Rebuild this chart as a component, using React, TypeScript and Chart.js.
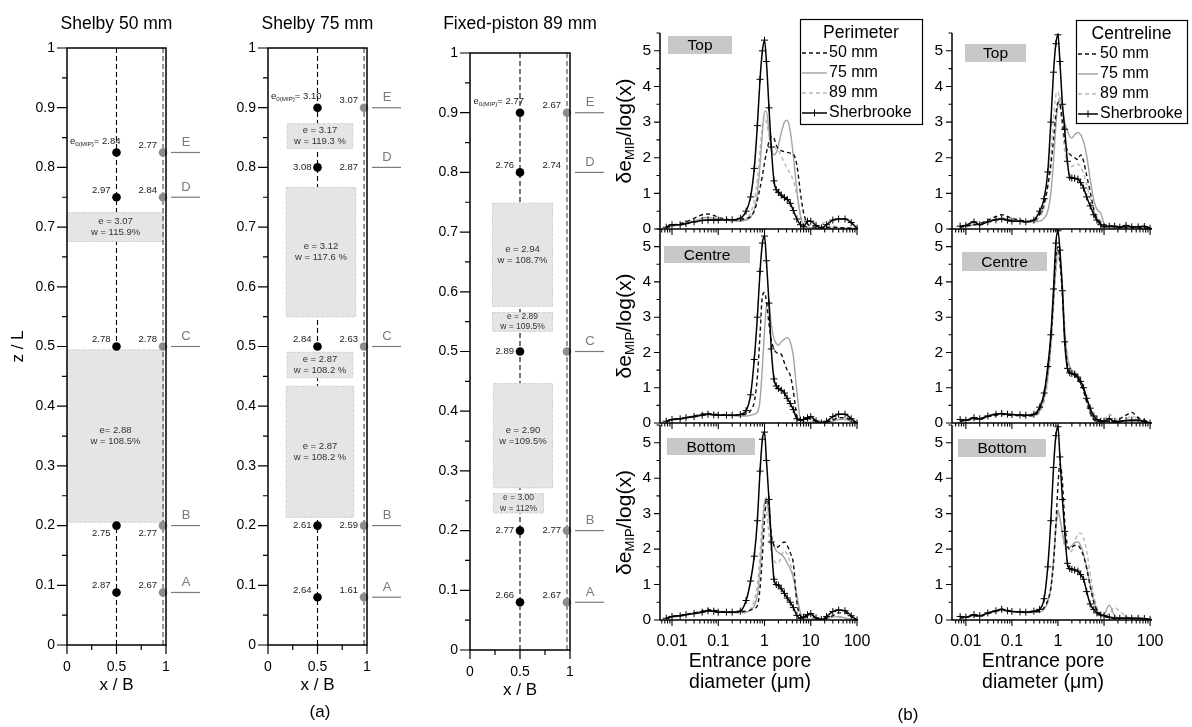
import React, { useEffect, useRef } from 'react';
import { Chart, registerables } from 'chart.js';

Chart.register(...registerables);

const FONT = 'Arial, "Liberation Sans", sans-serif';

// ---------------- (a) sample profiles ----------------
const SITE_LETTERS = ['E', 'D', 'C', 'B', 'A'];
const X_CENTRE = 0.5;
const X_EDGE = 0.97;

const S50_Z = [0.825, 0.75, 0.5, 0.2, 0.088];
const S50_E_CENTRE = ['2.84', '2.97', '2.78', '2.75', '2.87'];
const S50_E_EDGE = ['2.77', '2.84', '2.78', '2.77', '2.67'];
const S50_EDGE_POINT = [0.825, 0.75, 0.5, 0.2, 0.088];
const S50_BOXES: any[] = [
  [0, 0.98, 0.675, 0.725, 'e = 3.07', 'w = 115.9%'],
  [0, 0.98, 0.205, 0.495, 'e= 2.88', 'w = 108.5%'],
];

const S75_Z = [0.9, 0.8, 0.5, 0.2, 0.08];
const S75_E_CENTRE = ['3.10', '3.08', '2.84', '2.61', '2.64'];
const S75_E_EDGE = ['3.07', '2.87', '2.63', '2.59', '1.61'];
const S75_EDGE_POINT = [0.9, null, 0.5, 0.2, 0.08];
const S75_BOXES: any[] = [
  [0.19, 0.86, 0.831, 0.874, 'e = 3.17', 'w = 119.3 %'],
  [0.18, 0.89, 0.549, 0.767, 'e = 3.12', 'w = 117.6 %'],
  [0.19, 0.86, 0.447, 0.491, 'e = 2.87', 'w = 108.2 %'],
  [0.18, 0.87, 0.213, 0.434, 'e = 2.87', 'w = 108.2 %'],
];

const FP_Z = [0.9, 0.8, 0.5, 0.2, 0.08];
const FP_E_CENTRE = ['2.77', '2.76', '2.89', '2.77', '2.66'];
const FP_E_EDGE = ['2.67', '2.74', '', '2.77', '2.67'];
const FP_EDGE_POINT = [0.9, null, 0.5, 0.2, 0.08];
const FP_BOXES: any[] = [
  [0.22, 0.83, 0.575, 0.749, 'e = 2.94', 'w = 108.7%'],
  [0.22, 0.83, 0.533, 0.566, 'e = 2.89', 'w = 109.5%'],
  [0.23, 0.83, 0.271, 0.447, 'e = 2.90', 'w =109.5%'],
  [0.23, 0.74, 0.229, 0.263, 'e = 3.00', 'w = 112%'],
];

const A_Y_MAJOR = [0, 0.1, 0.2, 0.3, 0.4, 0.5, 0.6, 0.7, 0.8, 0.9, 1];
const A_Y_LABELS = ['0', '0.1', '0.2', '0.3', '0.4', '0.5', '0.6', '0.7', '0.8', '0.9', '1'];
const A_Y_MINOR = [0.05, 0.15, 0.25, 0.35, 0.45, 0.55, 0.65, 0.75, 0.85, 0.95];
const A_X_MAJOR = [0, 0.5, 1];
const A_X_LABELS = ['0', '0.5', '1'];
const A_X_MINOR = [0.25, 0.75];

// ---------------- (b) pore size distributions ----------------
const DIAM = [
  0.0075, 0.01, 0.015, 0.02, 0.03, 0.045, 0.06, 0.08, 0.1, 0.15, 0.2, 0.3,
  0.4, 0.5, 0.6, 0.7, 0.8, 0.9, 1.0, 1.1, 1.25, 1.4, 1.6, 1.8,
  2.0, 2.3, 2.7, 3.1, 3.6, 4.2, 5.0, 6.0, 7.0, 8.5,
  10, 13, 17, 22, 30, 40, 55, 75, 100,
];
const SERIES_NAMES = ['50 mm', '75 mm', '89 mm', 'Sherbrooke'];

// Perimeter - Top
const PT_50 = [0.05, 0.1, 0.15, 0.2, 0.3, 0.4, 0.42, 0.38, 0.33, 0.28, 0.25, 0.25,
  0.3, 0.35, 0.5, 0.8, 1.15, 1.5, 1.85, 2.15, 2.45, 2.6, 2.55, 2.35,
  2.25, 2.2, 2.17, 2.15, 2.13, 2.1, 1.8, 1.0, 0.45, 0.15,
  0.08, 0.05, 0.04, 0.05, 0.05, 0.04, 0.03, 0.02, 0.0];
const PT_75 = [0.05, 0.08, 0.12, 0.16, 0.22, 0.3, 0.33, 0.3, 0.28, 0.25, 0.23, 0.22,
  0.25, 0.32, 0.55, 1.0, 1.8, 2.7, 3.3, 3.3, 2.75, 2.3, 2.08, 2.15,
  2.35, 2.7, 3.0, 3.05, 2.75, 2.05, 1.1, 0.35, 0.1, 0.05,
  0.03, 0.03, 0.02, 0.02, 0.02, 0.02, 0.02, 0.02, 0.0];
const PT_89 = [0.05, 0.08, 0.12, 0.15, 0.2, 0.25, 0.27, 0.26, 0.25, 0.24, 0.23, 0.24,
  0.3, 0.45, 0.8, 1.4, 2.2, 2.9, 3.15, 3.0, 2.6, 2.4, 2.3, 2.25,
  2.2, 2.05, 1.85, 1.7, 1.55, 1.35, 0.95, 0.4, 0.15, 0.05,
  0.03, 0.05, 0.12, 0.22, 0.1, 0.03, 0.02, 0.02, 0.0];
const PT_SH = [0.05, 0.12, 0.12, 0.15, 0.2, 0.24, 0.25, 0.25, 0.25, 0.26, 0.26, 0.3,
  0.5, 0.9, 1.7, 2.9, 4.2, 5.0, 5.3, 4.7, 3.4, 2.3, 1.35, 1.1,
  1.03, 0.95, 0.88, 0.83, 0.72, 0.52, 0.28, 0.12, 0.06, 0.22,
  0.22, 0.1, 0.03, 0.12, 0.25, 0.28, 0.28, 0.18, 0.02];

// Perimeter - Centre
const PC_50 = [0.05, 0.1, 0.12, 0.15, 0.2, 0.25, 0.27, 0.25, 0.24, 0.23, 0.22, 0.23,
  0.25, 0.35, 0.6, 1.3, 2.5, 3.6, 3.7, 3.45, 2.8, 2.35, 2.1, 2.0,
  1.98, 1.95, 1.7, 1.5, 1.35, 0.9, 0.2, 0.08, 0.08, 0.12,
  0.12, 0.05, 0.02, 0.03, 0.08, 0.15, 0.15, 0.08, 0.0];
const PC_75 = [0.05, 0.08, 0.12, 0.15, 0.2, 0.25, 0.27, 0.25, 0.24, 0.22, 0.21, 0.2,
  0.2, 0.22, 0.25, 0.3, 0.65, 1.6, 2.6, 3.3, 3.4, 2.8, 2.4, 2.25,
  2.2, 2.3, 2.38, 2.42, 2.3, 1.9, 0.9, 0.1, 0.04, 0.03,
  0.02, 0.02, 0.02, 0.03, 0.05, 0.1, 0.1, 0.05, 0.0];
const PC_SH = [0.05, 0.1, 0.12, 0.15, 0.18, 0.22, 0.25, 0.23, 0.22, 0.22, 0.22, 0.24,
  0.35, 0.8, 1.8, 3.0, 4.3, 5.1, 5.3, 4.6, 3.4, 2.1, 1.25, 1.05,
  0.98, 0.93, 0.85, 0.7, 0.55, 0.38, 0.12, 0.08, 0.1, 0.15,
  0.18, 0.06, 0.0, 0.05, 0.18, 0.25, 0.25, 0.12, 0.0];

// Perimeter - Bottom
const PB_50 = [0.05, 0.1, 0.13, 0.16, 0.2, 0.25, 0.3, 0.27, 0.25, 0.23, 0.22, 0.23,
  0.25, 0.28, 0.33, 0.4, 0.9, 1.8, 2.8, 3.4, 3.2, 2.4, 2.1, 2.05,
  2.07, 2.15, 2.2, 2.1, 1.9, 1.6, 0.5, 0.12, 0.08, 0.12,
  0.15, 0.05, 0.02, 0.05, 0.12, 0.2, 0.2, 0.1, 0.0];
const PB_75 = [0.05, 0.08, 0.12, 0.15, 0.2, 0.24, 0.26, 0.25, 0.24, 0.22, 0.21, 0.21,
  0.22, 0.28, 0.4, 0.7, 1.4, 2.5, 3.3, 3.45, 2.9, 2.4, 2.1, 1.95,
  1.9, 1.85, 1.75, 1.6, 1.45, 1.2, 0.7, 0.2, 0.05, 0.03,
  0.02, 0.02, 0.03, 0.05, 0.08, 0.1, 0.06, 0.02, 0.0];
const PB_89 = [0.05, 0.08, 0.11, 0.14, 0.18, 0.22, 0.25, 0.24, 0.23, 0.22, 0.21, 0.21,
  0.22, 0.32, 0.55, 1.0, 1.9, 2.8, 3.3, 3.1, 2.4, 1.9, 1.7, 1.6,
  1.6, 1.8, 1.95, 1.85, 1.6, 1.2, 0.6, 0.15, 0.05, 0.03,
  0.02, 0.02, 0.05, 0.1, 0.12, 0.08, 0.04, 0.02, 0.0];
const PB_SH = [0.05, 0.1, 0.12, 0.15, 0.18, 0.22, 0.26, 0.25, 0.22, 0.22, 0.22, 0.25,
  0.55, 1.1, 1.8, 2.8, 4.2, 5.1, 5.3, 4.5, 3.4, 2.2, 1.15, 1.0,
  0.98, 0.88, 0.75, 0.62, 0.5, 0.35, 0.13, 0.05, 0.08, 0.15,
  0.18, 0.06, 0.01, 0.1, 0.24, 0.28, 0.26, 0.12, 0.0];

// Centreline - Top
const CT_50 = [0.05, 0.08, 0.12, 0.15, 0.25, 0.35, 0.4, 0.35, 0.3, 0.25, 0.22, 0.25,
  0.4, 0.7, 1.2, 1.8, 2.5, 3.2, 3.55, 3.5, 3.0, 2.5, 2.2, 2.1,
  2.05, 2.0, 1.95, 2.08, 1.9, 1.5, 1.05, 0.55, 0.3, 0.18,
  0.12, 0.1, 0.05, 0.05, 0.05, 0.05, 0.04, 0.03, 0.0];
const CT_75 = [0.05, 0.08, 0.12, 0.15, 0.22, 0.28, 0.3, 0.28, 0.25, 0.22, 0.2, 0.2,
  0.22, 0.3, 0.5, 1.0, 1.9, 2.9, 3.5, 3.7, 3.4, 3.0, 2.75, 2.6,
  2.55, 2.65, 2.7, 2.65, 2.45, 2.05, 1.4, 0.8, 0.55, 0.45,
  0.15, 0.05, 0.03, 0.05, 0.05, 0.05, 0.07, 0.1, 0.02];
const CT_89 = [0.05, 0.08, 0.11, 0.14, 0.2, 0.25, 0.27, 0.25, 0.23, 0.22, 0.21, 0.22,
  0.35, 0.6, 1.2, 2.1, 3.1, 3.75, 3.85, 3.5, 2.8, 2.2, 1.85, 1.75,
  1.75, 1.8, 1.82, 1.75, 1.55, 1.25, 0.85, 0.45, 0.25, 0.12,
  0.08, 0.05, 0.03, 0.03, 0.03, 0.03, 0.02, 0.02, 0.0];
const CT_SH = [0.08, 0.1, 0.2, 0.12, 0.2, 0.26, 0.28, 0.25, 0.22, 0.22, 0.2, 0.25,
  0.5, 0.85, 1.6, 3.0, 4.4, 5.2, 5.45, 4.7, 3.5, 2.8, 1.9, 1.45,
  1.43, 1.42, 1.4, 1.3, 1.15, 0.9, 0.65, 0.4, 0.25, 0.12,
  0.06, 0.08, 0.08, 0.05, 0.1, 0.06, 0.06, 0.07, 0.02];

// Centreline - Centre
const CC_50 = [0.05, 0.07, 0.12, 0.1, 0.18, 0.22, 0.25, 0.23, 0.22, 0.21, 0.2, 0.22,
  0.4, 0.8, 1.5, 2.4, 3.6, 4.7, 5.0, 4.6, 3.6, 2.4, 1.65, 1.45,
  1.4, 1.35, 1.25, 1.1, 0.9, 0.6, 0.3, 0.1, 0.05, 0.05,
  0.08, 0.05, 0.05, 0.12, 0.22, 0.3, 0.15, 0.08, 0.02];
const CC_75 = [0.05, 0.08, 0.12, 0.12, 0.2, 0.24, 0.26, 0.24, 0.23, 0.22, 0.21, 0.22,
  0.35, 0.7, 1.3, 2.2, 3.4, 4.4, 4.9, 4.7, 3.9, 2.7, 1.9, 1.6,
  1.5, 1.45, 1.35, 1.2, 1.0, 0.7, 0.35, 0.12, 0.05, 0.03,
  0.03, 0.02, 0.02, 0.03, 0.05, 0.05, 0.03, 0.02, 0.0];
const CC_89 = [0.05, 0.08, 0.1, 0.12, 0.18, 0.22, 0.25, 0.23, 0.22, 0.21, 0.2, 0.21,
  0.3, 0.6, 1.2, 2.1, 3.3, 4.3, 4.7, 4.5, 3.7, 2.5, 1.8, 1.55,
  1.45, 1.4, 1.3, 1.15, 0.95, 0.6, 0.25, 0.08, 0.03, 0.05,
  0.1, 0.25, 0.15, 0.05, 0.1, 0.2, 0.1, 0.05, 0.0];
const CC_SH = [0.1, 0.08, 0.15, 0.12, 0.2, 0.25, 0.27, 0.25, 0.24, 0.23, 0.22, 0.25,
  0.45, 0.85, 1.6, 2.5, 3.8, 5.1, 5.45, 4.9, 3.75, 2.3, 1.55, 1.42,
  1.4, 1.38, 1.3, 1.18, 1.0, 0.7, 0.42, 0.2, 0.1, 0.05,
  0.05, 0.12, 0.03, 0.05, 0.07, 0.08, 0.08, 0.04, 0.0];

// Centreline - Bottom
const CB_50 = [0.05, 0.08, 0.12, 0.1, 0.18, 0.25, 0.3, 0.27, 0.25, 0.23, 0.22, 0.23,
  0.25, 0.35, 0.55, 0.9, 1.6, 2.7, 3.8, 4.4, 3.9, 2.8, 2.1, 2.0,
  2.05, 2.1, 2.1, 2.0, 1.8, 1.45, 0.95, 0.5, 0.28, 0.15,
  0.1, 0.08, 0.05, 0.05, 0.05, 0.04, 0.04, 0.03, 0.0];
const CB_75 = [0.05, 0.08, 0.12, 0.12, 0.2, 0.25, 0.28, 0.26, 0.24, 0.22, 0.21, 0.22,
  0.22, 0.3, 0.5, 0.9, 1.7, 2.6, 3.1, 2.9, 2.45, 2.15, 2.05, 2.05,
  2.1, 2.18, 2.2, 2.1, 1.85, 1.5, 1.0, 0.55, 0.3, 0.12,
  0.15, 0.42, 0.12, 0.05, 0.08, 0.05, 0.03, 0.02, 0.0];
const CB_89 = [0.05, 0.08, 0.11, 0.12, 0.18, 0.24, 0.27, 0.25, 0.23, 0.22, 0.21, 0.22,
  0.25, 0.35, 0.55, 0.95, 1.7, 2.5, 3.0, 2.85, 2.4, 2.05, 1.95, 1.92,
  1.95, 2.2, 2.42, 2.45, 2.3, 1.95, 1.3, 0.7, 0.35, 0.18,
  0.12, 0.18, 0.35, 0.25, 0.1, 0.05, 0.03, 0.02, 0.0];
const CB_SH = [0.1, 0.08, 0.15, 0.12, 0.2, 0.26, 0.3, 0.26, 0.24, 0.23, 0.22, 0.25,
  0.3, 0.6, 1.5, 2.8, 4.3, 5.2, 5.45, 4.6, 3.4, 2.5, 1.6, 1.45,
  1.43, 1.41, 1.38, 1.28, 1.15, 0.8, 0.45, 0.3, 0.2, 0.14,
  0.12, 0.08, 0.05, 0.05, 0.05, 0.05, 0.05, 0.04, 0.02];

const B_X_MAJOR = [0.01, 0.1, 1, 10, 100];
const B_X_LABELS = ['0.01', '0.1', '1', '10', '100'];
const B_X_MINOR = [0.006, 0.007, 0.008, 0.009, 0.02, 0.03, 0.04, 0.05, 0.06, 0.07, 0.08, 0.09,
  0.2, 0.3, 0.4, 0.5, 0.6, 0.7, 0.8, 0.9, 2, 3, 4, 5, 6, 7, 8, 9, 20, 30, 40, 50, 60, 70, 80, 90];
const B_Y_MAJOR = [0, 1, 2, 3, 4, 5];
const B_Y_LABELS = ['0', '1', '2', '3', '4', '5'];
const B_Y_MINOR = [0.5, 1.5, 2.5, 3.5, 4.5, 5.5];
const TAG_NAMES = ['Top', 'Centre', 'Bottom'];

// ---------------- helpers ----------------
function drawSubText(ctx: any, base: string, sub: string, rest: string, x: number, y: number, size: number, align: string, subScale = 0.65) {
  const subSize = size * subScale;
  ctx.font = `${size}px ${FONT}`;
  const w1 = ctx.measureText(base).width;
  const w3 = ctx.measureText(rest).width;
  ctx.font = `${subSize}px ${FONT}`;
  const w2 = ctx.measureText(sub).width;
  const total = w1 + w2 + w3;
  let cx = align === 'right' ? x - total : align === 'center' ? x - total / 2 : x;
  ctx.textAlign = 'left';
  ctx.textBaseline = 'middle';
  ctx.font = `${size}px ${FONT}`;
  ctx.fillText(base, cx, y);
  cx += w1;
  ctx.font = `${subSize}px ${FONT}`;
  ctx.fillText(sub, cx, y + size * 0.28);
  cx += w2;
  ctx.font = `${size}px ${FONT}`;
  ctx.fillText(rest, cx, y);
}

function labelDy(z: number, boxes: any[]) {
  let gap = Infinity;
  for (const b of boxes) if (b[2] >= z) gap = Math.min(gap, b[2] - z);
  if (gap < 0.012) return 8;
  if (gap < 0.04) return 0;
  return -7;
}

type PanelA = {
  title: string; z: number[]; eCentre: string[]; eEdge: string[]; edgePoint: (number | null)[];
  boxes: any[]; zLabel: boolean; titleY: number;
};

function panelAPlugin(p: PanelA) {
  return {
    id: 'panelA',
    beforeDatasetDraw(chart: any, args: any) {
      if (args.index !== 2) return;
      const { ctx, scales: { x, y } } = chart;
      ctx.save();
      for (const b of p.boxes) {
        const x0 = x.getPixelForValue(b[0]);
        const x1 = x.getPixelForValue(b[1]);
        const yTop = y.getPixelForValue(b[3]);
        const yBot = y.getPixelForValue(b[2]);
        ctx.fillStyle = '#e5e5e5';
        ctx.fillRect(x0, yTop, x1 - x0, yBot - yTop);
        ctx.setLineDash([3, 2]);
        ctx.strokeStyle = '#d2d2d2';
        ctx.lineWidth = 1;
        ctx.strokeRect(x0 + 0.5, yTop + 0.5, x1 - x0 - 1, yBot - yTop - 1);
        ctx.setLineDash([]);
        const h = yBot - yTop;
        const fs = h < 24 ? 8.5 : 9.5;
        ctx.font = `${fs}px ${FONT}`;
        ctx.fillStyle = '#333';
        ctx.textAlign = 'center';
        ctx.textBaseline = 'middle';
        const cx = (x0 + x1) / 2;
        const cy = (yTop + yBot) / 2;
        const g = fs * 0.6;
        ctx.fillText(b[4], cx, cy - g);
        ctx.fillText(b[5], cx, cy + g);
      }
      ctx.restore();
    },
    afterDraw(chart: any) {
      const { ctx, chartArea: ca, scales: { x, y } } = chart;
      ctx.save();
      ctx.strokeStyle = '#000';
      ctx.lineWidth = 1.5;
      ctx.strokeRect(ca.left, ca.top, ca.right - ca.left, ca.bottom - ca.top);
      ctx.lineWidth = 1.2;
      ctx.beginPath();
      for (const v of A_Y_MAJOR) { const py = y.getPixelForValue(v); ctx.moveTo(ca.left - 10, py); ctx.lineTo(ca.left, py); }
      for (const v of A_Y_MINOR) { const py = y.getPixelForValue(v); ctx.moveTo(ca.left - 5, py); ctx.lineTo(ca.left, py); }
      for (const v of A_X_MAJOR) { const px = x.getPixelForValue(v); ctx.moveTo(px, ca.bottom); ctx.lineTo(px, ca.bottom + 9); }
      for (const v of A_X_MINOR) { const px = x.getPixelForValue(v); ctx.moveTo(px, ca.bottom); ctx.lineTo(px, ca.bottom + 5); }
      ctx.stroke();

      ctx.fillStyle = '#000';
      ctx.textAlign = 'center';
      ctx.textBaseline = 'middle';
      ctx.font = `17.5px ${FONT}`;
      ctx.fillText(p.title, (ca.left + ca.right) / 2, p.titleY);
      ctx.font = `17px ${FONT}`;
      ctx.fillText('x / B', (ca.left + ca.right) / 2, ca.bottom + 40);
      if (p.zLabel) {
        ctx.save();
        ctx.translate(18, (ca.top + ca.bottom) / 2);
        ctx.rotate(-Math.PI / 2);
        ctx.fillText('z / L', 0, 0);
        ctx.restore();
      }

      const xc = x.getPixelForValue(X_CENTRE);
      const xe = x.getPixelForValue(X_EDGE);
      p.z.forEach((z, i) => {
        const py = y.getPixelForValue(z);
        const dy = labelDy(z, p.boxes);
        ctx.fillStyle = '#1a1a1a';
        if (i === 0) {
          drawSubText(ctx, 'e', '0(MIP)', '= ' + p.eCentre[i], xc + 4, py - 11, 9.5, 'right');
        } else {
          ctx.font = `9.5px ${FONT}`;
          ctx.textAlign = 'right';
          ctx.textBaseline = 'middle';
          ctx.fillText(p.eCentre[i], xc - 6, py + dy);
        }
        if (p.eEdge[i]) {
          ctx.font = `9.5px ${FONT}`;
          ctx.textAlign = 'right';
          ctx.textBaseline = 'middle';
          ctx.fillText(p.eEdge[i], xe - 6, py + dy);
        }
        ctx.strokeStyle = '#7a7a7a';
        ctx.lineWidth = 1.2;
        ctx.beginPath();
        ctx.moveTo(ca.right + 5, py);
        ctx.lineTo(ca.right + 34, py);
        ctx.stroke();
        ctx.fillStyle = '#7a7a7a';
        ctx.font = `13px ${FONT}`;
        ctx.textAlign = 'center';
        ctx.fillText(SITE_LETTERS[i], ca.right + 20, py - 10);
      });
      ctx.restore();
    },
  };
}

function buildA(p: PanelA, W: number, H: number, area: any) {
  const yW = 62;
  const xH = 50;
  return {
    type: 'scatter',
    data: {
      datasets: [
        {
          data: p.edgePoint.filter((z) => z !== null).map((z) => ({ x: X_EDGE, y: z })),
          pointRadius: 4.3, pointBackgroundColor: '#8c8c8c', pointBorderColor: '#8c8c8c', pointBorderWidth: 0,
          showLine: false, clip: false,
        },
        {
          data: p.z.map((z) => ({ x: X_CENTRE, y: z })),
          pointRadius: 4.3, pointBackgroundColor: '#000', pointBorderColor: '#000', pointBorderWidth: 0,
          showLine: false, clip: false,
        },
        {
          data: [{ x: X_EDGE, y: 0 }, { x: X_EDGE, y: 1 }],
          showLine: true, borderColor: '#444', borderWidth: 1.1, borderDash: [5, 3], pointRadius: 0, clip: false,
        },
        {
          data: [{ x: X_CENTRE, y: 0 }, { x: X_CENTRE, y: 1 }],
          showLine: true, borderColor: '#000', borderWidth: 1.1, borderDash: [5, 3], pointRadius: 0, clip: false,
        },
      ],
    },
    options: {
      responsive: false,
      animation: false,
      events: [],
      layout: { padding: { left: area.l - yW, top: area.t, right: W - area.r, bottom: H - area.b - xH } },
      plugins: { legend: { display: false }, tooltip: { enabled: false }, title: { display: false } },
      scales: {
        x: {
          type: 'linear', min: 0, max: 1,
          afterFit: (s: any) => { s.height = xH; },
          afterBuildTicks: (s: any) => { s.ticks = A_X_MAJOR.map((v) => ({ value: v })); },
          ticks: { callback: (_v: any, i: number) => A_X_LABELS[i], font: { size: 14, family: FONT }, color: '#000', padding: 14, maxRotation: 0, autoSkip: false },
          grid: { display: false, drawTicks: false }, border: { display: false },
        },
        y: {
          type: 'linear', min: 0, max: 1,
          afterFit: (s: any) => { s.width = yW; },
          afterBuildTicks: (s: any) => { s.ticks = A_Y_MAJOR.map((v) => ({ value: v })); },
          ticks: { callback: (_v: any, i: number) => A_Y_LABELS[i], font: { size: 14, family: FONT }, color: '#000', padding: 12, autoSkip: false },
          grid: { display: false, drawTicks: false }, border: { display: false },
        },
      },
    },
    plugins: [panelAPlugin(p)],
  };
}

type PanelB = {
  series: (number[] | null)[]; xMin: number; xMax: number; tag: string; tagBox: any;
  legend: any | null; xLabels: boolean; yTitle: boolean;
};

function seriesStyle(i: number) {
  if (i === 0) return { borderColor: '#111', borderDash: [4, 3], borderWidth: 1.4, pointRadius: 0, order: 1 };
  if (i === 1) return { borderColor: '#a3a3a3', borderWidth: 1.4, pointRadius: 0, order: 2 };
  if (i === 2) return { borderColor: '#b8b8b8', borderDash: [4, 3], borderWidth: 1.4, pointRadius: 0, order: 3 };
  return { borderColor: '#000', borderWidth: 1.5, pointStyle: 'cross', pointRadius: 3.5, pointBorderWidth: 1, pointBorderColor: '#000', order: 0 };
}

function panelBPlugin(p: PanelB) {
  return {
    id: 'panelB',
    afterDraw(chart: any) {
      const { ctx, chartArea: ca, scales: { x, y } } = chart;
      ctx.save();
      ctx.strokeStyle = '#000';
      ctx.lineWidth = 1.5;
      ctx.beginPath();
      ctx.moveTo(ca.left, ca.top);
      ctx.lineTo(ca.left, ca.bottom);
      ctx.lineTo(ca.right, ca.bottom);
      ctx.stroke();
      ctx.lineWidth = 1.1;
      ctx.beginPath();
      for (const v of B_Y_MAJOR) { const py = y.getPixelForValue(v); ctx.moveTo(ca.left - 6, py); ctx.lineTo(ca.left, py); }
      for (const v of B_Y_MINOR) { const py = y.getPixelForValue(v); ctx.moveTo(ca.left - 3.5, py); ctx.lineTo(ca.left, py); }
      for (const v of B_X_MAJOR) {
        if (v < p.xMin || v > p.xMax) continue;
        const px = x.getPixelForValue(v); ctx.moveTo(px, ca.bottom); ctx.lineTo(px, ca.bottom + 6);
      }
      for (const v of B_X_MINOR) {
        if (v < p.xMin || v > p.xMax) continue;
        const px = x.getPixelForValue(v); ctx.moveTo(px, ca.bottom); ctx.lineTo(px, ca.bottom + 3.5);
      }
      ctx.stroke();

      // tag box
      const tb = p.tagBox;
      ctx.fillStyle = '#c8c8c8';
      ctx.fillRect(ca.left + tb.dx, ca.top + tb.dy, tb.w, tb.h);
      ctx.fillStyle = '#000';
      ctx.font = `15.5px ${FONT}`;
      ctx.textAlign = 'center';
      ctx.textBaseline = 'middle';
      ctx.fillText(p.tag, ca.left + tb.dx + tb.w / 2, ca.top + tb.dy + tb.h / 2 + 1);

      if (p.yTitle) {
        ctx.save();
        ctx.translate(ca.left - 35, (ca.top + ca.bottom) / 2);
        ctx.rotate(-Math.PI / 2);
        ctx.fillStyle = '#000';
        drawSubText(ctx, '\u03b4e', 'MIP', '/log(x)', 0, 0, 21, 'center', 0.62);
        ctx.restore();
      }
      if (p.xLabels) {
        ctx.fillStyle = '#000';
        ctx.font = `19.5px ${FONT}`;
        ctx.textAlign = 'center';
        ctx.textBaseline = 'middle';
        const cx = (ca.left + ca.right) / 2 - 9;
        ctx.fillText('Entrance pore', cx, ca.bottom + 42);
        ctx.fillText('diameter (\u03bcm)', cx, ca.bottom + 63);
      }
      if (p.legend) {
        const L = p.legend;
        ctx.fillStyle = '#fff';
        ctx.fillRect(L.x0, L.y0, L.x1 - L.x0, L.y1 - L.y0);
        ctx.strokeStyle = '#000';
        ctx.lineWidth = 1.2;
        ctx.strokeRect(L.x0 + 0.5, L.y0 + 0.5, L.x1 - L.x0, L.y1 - L.y0);
        ctx.fillStyle = '#000';
        ctx.font = `17.5px ${FONT}`;
        ctx.textAlign = 'center';
        ctx.textBaseline = 'middle';
        ctx.fillText(L.title, (L.x0 + L.x1) / 2, L.y0 + 14);
        chart.data.datasets.forEach((ds: any, i: number) => {
          const ry = L.y0 + 34 + i * 20;
          ctx.strokeStyle = ds.borderColor;
          ctx.lineWidth = ds.borderWidth;
          ctx.setLineDash(ds.borderDash || []);
          ctx.beginPath();
          ctx.moveTo(L.s0, ry);
          ctx.lineTo(L.s1, ry);
          ctx.stroke();
          ctx.setLineDash([]);
          if (ds.pointStyle === 'cross') {
            const mx = (L.s0 + L.s1) / 2;
            ctx.lineWidth = 1;
            ctx.beginPath();
            ctx.moveTo(mx, ry - 3.5);
            ctx.lineTo(mx, ry + 3.5);
            ctx.stroke();
          }
          ctx.fillStyle = '#000';
          ctx.font = `16px ${FONT}`;
          ctx.textAlign = 'left';
          ctx.fillText(ds.label, L.s1 + 2, ry);
        });
      }
      ctx.restore();
    },
  };
}

function buildB(p: PanelB, W: number, H: number, area: any) {
  const yW = 30;
  const xH = 45;
  const datasets: any[] = [];
  p.series.forEach((arr, i) => {
    if (!arr) return;
    datasets.push({
      label: SERIES_NAMES[i],
      data: DIAM.map((d, k) => ({ x: d, y: arr[k] })),
      cubicInterpolationMode: 'monotone',
      fill: false,
      ...seriesStyle(i),
    });
  });
  return {
    type: 'line',
    data: { datasets },
    options: {
      responsive: false,
      animation: false,
      events: [],
      layout: { padding: { left: area.l - yW, top: area.t, right: W - area.r, bottom: H - area.b - xH } },
      plugins: { legend: { display: false }, tooltip: { enabled: false }, title: { display: false } },
      scales: {
        x: {
          type: 'logarithmic', min: p.xMin, max: p.xMax,
          afterFit: (s: any) => { s.height = xH; },
          afterBuildTicks: (s: any) => { s.ticks = B_X_MAJOR.map((v) => ({ value: v })); },
          ticks: { callback: (_v: any, i: number) => (p.xLabels ? B_X_LABELS[i] : ''), font: { size: 16, family: FONT }, color: '#000', padding: 12, maxRotation: 0, autoSkip: false },
          grid: { display: false, drawTicks: false }, border: { display: false },
        },
        y: {
          type: 'linear', min: 0, max: 5.5,
          afterFit: (s: any) => { s.width = yW; },
          afterBuildTicks: (s: any) => { s.ticks = B_Y_MAJOR.map((v) => ({ value: v })); },
          ticks: { callback: (_v: any, i: number) => B_Y_LABELS[i], font: { size: 15.5, family: FONT }, color: '#000', padding: 9, autoSkip: false },
          grid: { display: false, drawTicks: false }, border: { display: false },
        },
      },
    },
    plugins: [panelBPlugin(p)],
  };
}

function ChartCanvas({ left, top, width, height, build }: any) {
  const ref = useRef<HTMLCanvasElement | null>(null);
  useEffect(() => {
    const chart = new Chart(ref.current as HTMLCanvasElement, build());
    return () => chart.destroy();
  }, []);
  return <canvas ref={ref} width={width} height={height} style={{ position: 'absolute', left, top, width, height }} />;
}

// ---------------- layout ----------------
const PANELS_A: { def: PanelA; left: number; top: number; W: number; H: number; area: any }[] = [
  {
    def: { title: 'Shelby 50 mm', z: S50_Z, eCentre: S50_E_CENTRE, eEdge: S50_E_EDGE, edgePoint: S50_EDGE_POINT, boxes: S50_BOXES, zLabel: true, titleY: 24 },
    left: 0, top: 0, W: 205, H: 700, area: { l: 67, t: 48, r: 166, b: 645 },
  },
  {
    def: { title: 'Shelby 75 mm', z: S75_Z, eCentre: S75_E_CENTRE, eEdge: S75_E_EDGE, edgePoint: S75_EDGE_POINT, boxes: S75_BOXES, zLabel: false, titleY: 24 },
    left: 201, top: 0, W: 205, H: 700, area: { l: 67, t: 48, r: 166, b: 645 },
  },
  {
    def: { title: 'Fixed-piston 89 mm', z: FP_Z, eCentre: FP_E_CENTRE, eEdge: FP_E_EDGE, edgePoint: FP_EDGE_POINT, boxes: FP_BOXES, zLabel: false, titleY: 19 },
    left: 403, top: 5, W: 206, H: 700, area: { l: 67, t: 48, r: 167, b: 645 },
  },
];

const B_COLS = [
  {
    left: 600, W: 325, l: 60, r: 258, xMin: 0.0055, xMax: 105, yTitle: true,
    legend: { title: 'Perimeter', x0: 200, y0: 19, x1: 322, y1: 124, s0: 202, s1: 227 },
    series: [[PT_50, PT_75, PT_89, PT_SH], [PC_50, PC_75, null, PC_SH], [PB_50, PB_75, PB_89, PB_SH]],
    tags: [{ dx: 8, dy: 3, w: 64, h: 18 }, { dx: 4, dy: 17, w: 86, h: 17 }, { dx: 7, dy: 13, w: 88, h: 17 }],
  },
  {
    left: 880, W: 312, l: 72, r: 272, xMin: 0.005, xMax: 110, yTitle: false,
    legend: { title: 'Centreline', x0: 196, y0: 20, x1: 307, y1: 123, s0: 198, s1: 218 },
    series: [[CT_50, CT_75, CT_89, CT_SH], [CC_50, CC_75, CC_89, CC_SH], [CB_50, CB_75, CB_89, CB_SH]],
    tags: [{ dx: 13, dy: 11, w: 61, h: 18 }, { dx: 10, dy: 23, w: 85, h: 19 }, { dx: 6, dy: 14, w: 88, h: 18 }],
  },
];
const B_ROWS = [{ t: 33, b: 229 }, { t: 229, b: 423 }, { t: 425, b: 620 }];

export default function App() {
  const items: any[] = [];
  PANELS_A.forEach((pa, i) => {
    items.push(
      <ChartCanvas key={'a' + i} left={pa.left} top={pa.top} width={pa.W} height={pa.H}
        build={() => buildA(pa.def, pa.W, pa.H, pa.area)} />
    );
  });
  B_COLS.forEach((col, ci) => {
    B_ROWS.forEach((row, ri) => {
      const def: PanelB = {
        series: col.series[ri], xMin: col.xMin, xMax: col.xMax, tag: TAG_NAMES[ri], tagBox: col.tags[ri],
        legend: ri === 0 ? col.legend : null, xLabels: ri === 2, yTitle: col.yTitle,
      };
      const area = { l: col.l, r: col.r, t: row.t, b: row.b };
      items.push(
        <ChartCanvas key={'b' + ci + ri} left={col.left} top={0} width={col.W} height={727}
          build={() => buildB(def, col.W, 727, area)} />
      );
    });
  });
  return (
    <div style={{ position: 'absolute', left: 0, top: 0, width: 1192, height: 727, background: '#fff', overflow: 'hidden', fontFamily: FONT }}>
      {items}
      <div style={{ position: 'absolute', left: 295, top: 701, width: 50, lineHeight: '22px', textAlign: 'center', fontSize: 17, color: '#000' }}>(a)</div>
      <div style={{ position: 'absolute', left: 883, top: 704, width: 50, lineHeight: '22px', textAlign: 'center', fontSize: 17, color: '#000' }}>(b)</div>
    </div>
  );
}
